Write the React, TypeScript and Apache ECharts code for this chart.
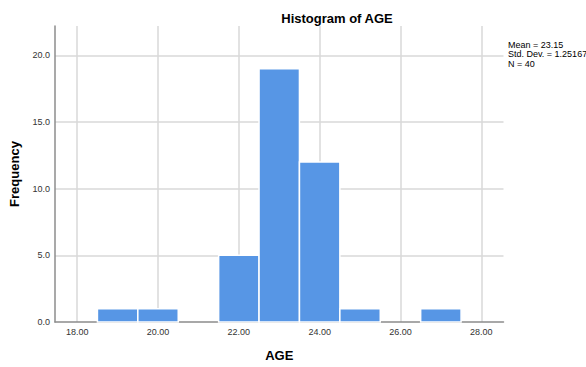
import React, { useEffect, useRef } from "react";
import * as echarts from "echarts";

const binStarts = [18.5, 19.5, 20.5, 21.5, 22.5, 23.5, 24.5, 25.5, 26.5];
const binEnds = [19.5, 20.5, 21.5, 22.5, 23.5, 24.5, 25.5, 26.5, 27.5];
const frequencies = [1, 1, 0, 5, 19, 12, 1, 0, 1];
const statsLines = ["Mean = 23.15", "Std. Dev. = 1.25167", "N = 40"];
const titleText = "Histogram of AGE";
const xName = "AGE";
const yName = "Frequency";

export default function App() {
  const ref = useRef<HTMLDivElement>(null);
  useEffect(() => {
    if (!ref.current) return;
    const chart = echarts.init(ref.current, null, { renderer: "svg" });
    const data = binStarts.map((s, i) => [s, binEnds[i], frequencies[i]]);
    const font = "'Liberation Sans', Arial, sans-serif";
    chart.setOption({
      animation: false,
      backgroundColor: "#ffffff",
      title: {
        text: titleText,
        left: 332,
        top: 7,
        textAlign: "center",
        textStyle: { fontFamily: font, fontSize: 13, fontWeight: "bold", color: "#000" },
      },
      graphic: [
        {
          type: "text",
          left: 508,
          top: 40,
          style: {
            text: statsLines.join("\n"),
            font: `9px ${font}`,
            fill: "#000",
            lineHeight: 9.5,
          },
        },
      ],
      grid: { left: 54, right: 82.5, top: 26, bottom: 37.5, containLabel: false },
      xAxis: {
        type: "value",
        min: 17.45,
        max: 28.55,
        splitNumber: 5,
        name: xName,
        nameLocation: "middle",
        nameGap: 27,
        nameTextStyle: { fontFamily: font, fontSize: 13, fontWeight: "bold", color: "#000" },
        axisLine: { show: true, lineStyle: { color: "#8c8c8c", width: 1.5 } },
        axisTick: { show: false },
        axisLabel: {
          showMinLabel: false,
          showMaxLabel: false,
          formatter: (v: number) => v.toFixed(2),
          fontFamily: font,
          fontSize: 9,
          color: "#333",
          margin: 5,
        },
        splitLine: { show: true, showMinLine: false, showMaxLine: false, lineStyle: { color: "#d9d9d9", width: 1.5 } },
      },
      yAxis: {
        type: "value",
        min: 0,
        max: 22.2,
        interval: 5,
        name: yName,
        nameLocation: "middle",
        nameGap: 34,
        nameTextStyle: { fontFamily: font, fontSize: 13, fontWeight: "bold", color: "#000" },
        axisLine: { show: true, lineStyle: { color: "#8c8c8c", width: 1.5 } },
        axisTick: { show: false },
        axisLabel: {
          showMaxLabel: false,
          formatter: (v: number) => v.toFixed(1),
          fontFamily: font,
          fontSize: 9,
          color: "#333",
          margin: 5,
        },
        splitLine: { show: true, showMinLine: false, showMaxLine: false, lineStyle: { color: "#d9d9d9", width: 1.5 } },
      },
      series: [
        {
          type: "custom",
          data,
          encode: { x: [0, 1], y: 2 },
          renderItem: (params: any, api: any) => {
            const s = api.value(0);
            const e = api.value(1);
            const f = api.value(2);
            if (!f) return null;
            const p0 = api.coord([s, f]);
            const p1 = api.coord([e, 0]);
            return {
              type: "rect",
              shape: { x: p0[0], y: p0[1], width: p1[0] - p0[0], height: p1[1] - p0[1] },
              style: { fill: "#5796e5", stroke: "#ffffff", lineWidth: 1.5 },
            };
          },
        },
      ],
    });
    return () => chart.dispose();
  }, []);
  return (
    <div
      ref={ref}
      style={{ position: "fixed", left: 0, top: 0, width: 586, height: 367 }}
    />
  );
}
